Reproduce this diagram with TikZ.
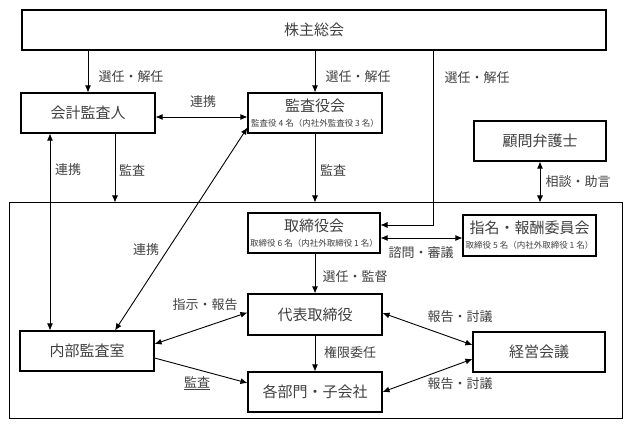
\documentclass[tikz,border=0pt]{standalone}
\usepackage{fontspec}
\newfontfamily\jp{Noto Sans CJK JP}
\usetikzlibrary{arrows.meta}
\begin{document}
\begin{tikzpicture}[x=1pt,y=1pt,
  box/.style={draw, line width=1.1pt, minimum height=40pt, inner sep=0pt, align=center,
    text=black!75, font=\jp\fontsize{15}{17}\selectfont},
  lbl/.style={text=black!75, font=\jp\fontsize{13}{15}\selectfont, inner sep=1pt},
  tip/.tip={Latex[length=7pt,width=6pt]},
  arr/.style={-tip, line width=0.9pt},
  darr/.style={tip-tip, line width=0.9pt},
  subf/.style={}]
\useasboundingbox (0,0) rectangle (630,-425);
\newcommand{\subtxt}[1]{{\fontsize{8.5}{10}\selectfont #1}}
% frame
\node[draw, line width=1pt, minimum width=613pt, minimum height=215pt, inner sep=0pt] (frame) at (315.5,-310.5) {};
% boxes
\node[box, minimum width=584pt] (sh) at (314,-30) {株主総会};
\node[box, minimum width=134pt] (kaikei) at (88,-113) {会計監査人};
\node[box, minimum width=134pt] (kansa) at (315,-113) {監査役会\\[-2pt]\subtxt{監査役 4 名（内社外監査役 3 名）}};
\node[box, minimum width=132pt] (komon) at (540,-141) {顧問弁護士};
\node[box, minimum width=132pt] (tori) at (314,-233) {取締役会\\[-2pt]\subtxt{取締役 6 名（内社外取締役 1 名）}};
\node[box, minimum width=133pt, minimum height=41pt] (shimei) at (529.5,-235.5) {指名・報酬委員会\\[-2pt]\subtxt{取締役 5 名（内社外取締役 1 名）}};
\node[box, minimum width=134pt, minimum height=41pt] (daihyo) at (315,-314.5) {代表取締役};
\node[box, minimum width=134pt] (naibu) at (87,-351) {内部監査室};
\node[box, minimum width=132pt] (keiei) at (539,-352) {経営会議};
\node[box, minimum width=134pt] (kakubu) at (315,-392) {各部門・子会社};
\coordinate (rline) at (433,-50);
% connectors
\draw[arr] (kaikei.north |- sh.south) -- (kaikei.north);
\draw[arr] (kansa.north |- sh.south) -- (kansa.north);
\draw[arr, line width=0.7pt] (rline) |- ([yshift=8pt]tori.east);
\draw[darr] ([yshift=-4pt]kaikei.east) -- ([yshift=-4pt]kansa.west);
\draw[arr] ([xshift=27pt]kaikei.south) -- ([xshift=27pt]kaikei.south |- frame.north);
\draw[darr] ([xshift=-38pt]kaikei.south) -- ([xshift=-37pt]naibu.north);
\draw[arr] (kansa.south) -- (kansa.south |- frame.north);
\draw[darr] ([yshift=6pt]kansa.south west) -- ([xshift=28pt]naibu.north);
\draw[darr] (komon.south) -- (komon.south |- frame.north);
\draw[darr] ([yshift=-5pt]tori.east) -- ([yshift=-2.5pt]shimei.west);
\draw[arr] (tori.south -| daihyo.north) -- (daihyo.north);
\draw[arr] (daihyo.south) -- (kakubu.north);
\draw[darr] ([yshift=7pt]naibu.east) -- ([yshift=2pt]daihyo.west);
\draw[arr] ([yshift=-7pt]naibu.east) -- ([yshift=9pt]kakubu.west);
\draw[darr] ([yshift=1.5pt]daihyo.east) -- ([yshift=7pt]keiei.west);
\draw[darr] (kakubu.east) -- ([yshift=-7pt]keiei.west);
% labels
\node[lbl] (l1) at (131,-77) {選任・解任};
\node[lbl] (l2) at (358,-77) {選任・解任};
\node[lbl] (l3) at (477,-78) {選任・解任};
\node[lbl] (l4) at (203,-102) {連携};
\node[lbl] (l5) at (68,-170) {連携};
\node[lbl] (l6) at (132,-170) {監査};
\node[lbl] (l7) at (333,-170) {監査};
\node[lbl] (l8) at (578,-182) {相談・助言};
\node[lbl] (l9) at (146,-250) {連携};
\node[lbl] (l10) at (421,-253) {諮問・審議};
\node[lbl] (l11) at (355,-277) {選任・監督};
\node[lbl] (l12) at (205,-305) {指示・報告};
\node[lbl] (l13) at (350,-353) {権限委任};
\node[lbl] (l14) at (197,-383) {\underline{監査}};
\node[lbl] (l15) at (460,-317) {報告・討議};
\node[lbl] (l16) at (460,-384) {報告・討議};
\end{tikzpicture}
\end{document}
